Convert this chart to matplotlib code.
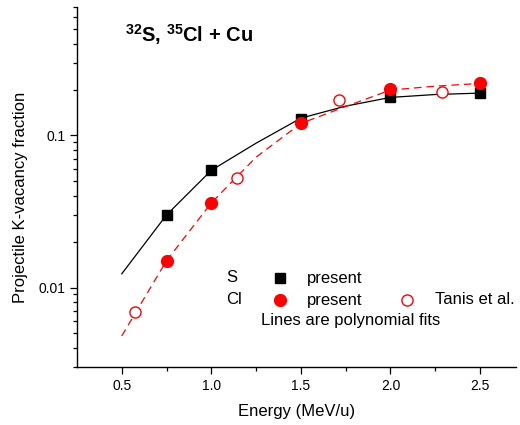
import numpy as np
from matplotlib import pyplot as plt
from matplotlib.ticker import FixedLocator, NullFormatter, FixedFormatter

plt.rcParams['font.family'] = ['Liberation Sans', 'DejaVu Sans']
plt.rcParams['mathtext.fontset'] = 'custom'
plt.rcParams['mathtext.rm'] = 'Liberation Sans'
plt.rcParams['mathtext.bf'] = 'Liberation Sans:bold'

# measured data
s_energy = [0.75, 1.0, 1.5, 2.0, 2.5]
s_frac = [0.030, 0.059, 0.129, 0.180, 0.191]

cl_energy = [0.75, 1.0, 1.5, 2.0, 2.5]
cl_frac = [0.0149, 0.036, 0.120, 0.201, 0.220]

tanis_energy = [0.572, 1.142, 1.715, 2.287]
tanis_frac = [0.0069, 0.0527, 0.172, 0.194]

# polynomial fit curves
fit_energy = [0.5, 0.75, 1.0, 1.25, 1.5, 1.75, 2.0, 2.25, 2.5]
s_fit = [0.0123, 0.030, 0.059, 0.089, 0.130, 0.156, 0.178, 0.186, 0.190]
cl_fit = [0.0048, 0.0150, 0.036, 0.072, 0.120, 0.155, 0.199, 0.211, 0.220]

fig = plt.figure(figsize=(5.2, 4.25), dpi=100)
ax = fig.add_axes([0.148, 0.1365, 0.844, 0.847])

ax.plot(fit_energy, s_fit, color='black', lw=0.9)
ax.plot(fit_energy, cl_fit, color='red', lw=0.9, ls=(0, (6, 4)))
ax.plot(s_energy, s_frac, ls='none', marker='s', ms=7.8, color='black')
ax.plot(cl_energy, cl_frac, ls='none', marker='o', ms=8.5, color='red')
ax.plot(tanis_energy, tanis_frac, ls='none', marker='o', ms=8, mfc='white',
        mec='red', mew=1.0)

ax.set_yscale('log')
ax.set_xlim(0.25, 2.7)
ax.set_ylim(0.003, 0.7)

ax.xaxis.set_major_locator(FixedLocator([0.5, 1.0, 1.5, 2.0, 2.5]))
ax.xaxis.set_minor_locator(FixedLocator([0.75, 1.25, 1.75, 2.25]))
ax.yaxis.set_major_locator(FixedLocator([0.01, 0.1]))
ax.yaxis.set_major_formatter(FixedFormatter(['0.01', '0.1']))
minor_y = [k * 10.0 ** e for e in (-3, -2, -1) for k in range(2, 10)]
ax.yaxis.set_minor_locator(FixedLocator(minor_y))
ax.yaxis.set_minor_formatter(NullFormatter())

ax.tick_params(which='major', direction='out', length=5, width=0.9, labelsize=10)
ax.tick_params(which='minor', direction='out', length=3, width=0.9)
for side in ('top', 'right'):
    ax.spines[side].set_visible(False)
for side in ('left', 'bottom'):
    ax.spines[side].set_linewidth(1.0)

ax.set_xlabel('Energy (MeV/u)', fontsize=12, labelpad=8)
ax.set_ylabel('Projectile K-vacancy fraction', fontsize=12)
ax.yaxis.set_label_coords(-0.112, 0.47)

fig.text(125 / 520, 1 - 35 / 425, r'$^{\mathbf{32}}$S, $^{\mathbf{35}}$Cl + Cu',
         fontsize=14.5, fontweight='bold', va='center', ha='left')

# legend drawn by hand
def px(x, y):
    return x / 520, 1 - y / 425

fig.text(*px(226, 278), 'S', fontsize=12, va='center')
fig.text(*px(226, 300), 'Cl', fontsize=12, va='center')
fig.text(*px(307, 278), 'present', fontsize=12, va='center')
fig.text(*px(307, 300), 'present', fontsize=12, va='center')
fig.text(*px(435, 300), 'Tanis et al.', fontsize=12, va='center')
fig.text(*px(261, 321), 'Lines are polynomial fits', fontsize=12, va='center')
fig.lines.append(plt.Line2D([280 / 520], [1 - 278 / 425], transform=fig.transFigure,
                            ls='none', marker='s', ms=7.5, color='black'))
fig.lines.append(plt.Line2D([280 / 520], [1 - 300 / 425], transform=fig.transFigure,
                            ls='none', marker='o', ms=8.5, color='red'))
fig.lines.append(plt.Line2D([407 / 520], [1 - 300 / 425], transform=fig.transFigure,
                            ls='none', marker='o', ms=8, mfc='white', mec='red', mew=1.0))

fig.savefig('out.png', dpi=100)
